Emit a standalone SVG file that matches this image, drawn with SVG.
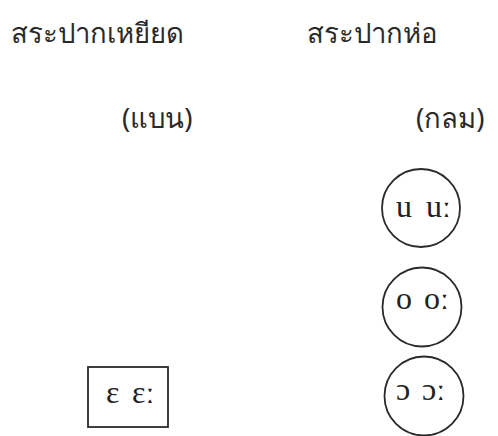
<svg xmlns="http://www.w3.org/2000/svg" width="498" height="436" viewBox="0 0 498 436">
<style>
.th{font-family:"Noto Sans","DejaVu Sans",sans-serif;font-size:27.5px;fill:#2a2a2a}
.ipa{font-family:"Liberation Serif","DejaVu Serif",serif;font-size:32px;fill:#222}
.shape{fill:none;stroke:#2a2a2a;stroke-width:1.8}
</style>
<rect width="498" height="436" fill="#fff"/>
<g id="headings">
<text class="th" x="11" y="43">สระปากเหยียด</text>
<text class="th" x="307" y="43">สระปากห่อ</text>
<text class="th" x="122" y="128">(แบน)</text>
<text class="th" x="416" y="128">(กลม)</text>
</g>
<g id="node-u">
<circle class="shape" cx="421" cy="208" r="39"/>
<text class="ipa" x="396" y="217">u<tspan x="426">uː</tspan></text>
</g>
<g id="node-o">
<circle class="shape" cx="422" cy="307" r="39.5"/>
<text class="ipa" x="396" y="309">o<tspan x="424">oː</tspan></text>
</g>
<g id="node-open-o">
<circle class="shape" cx="424" cy="396" r="39.5"/>
<text class="ipa" x="396" y="400">ɔ<tspan x="422">ɔː</tspan></text>
</g>
<g id="node-open-e">
<rect class="shape" x="88" y="367" width="80" height="60"/>
<text class="ipa" x="106" y="403">ɛ<tspan x="132">ɛː</tspan></text>
</g>
<g id="connectors"></g>
</svg>
